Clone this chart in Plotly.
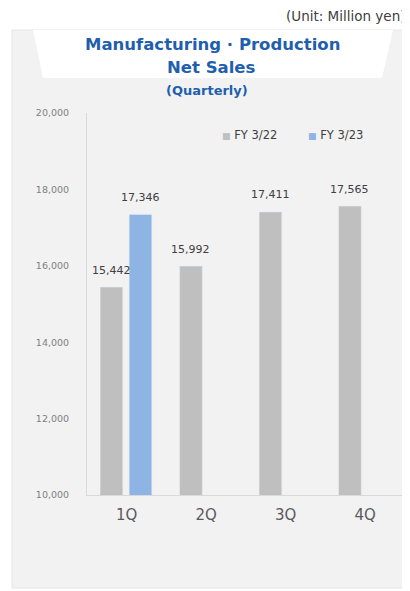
import plotly.graph_objects as go

categories = ["1Q", "2Q", "3Q", "4Q"]
fy_prev = [15442, 15992, 17411, 17565]
fy_curr = [17346, None, None, None]
series_names = ["FY 3/22", "FY 3/23"]
y_ticks = [10000, 12000, 14000, 16000, 18000, 20000]

# page body has an 8px margin; layout is expressed in reference (window) pixels
OFF = 8
W, H = 410 - OFF, 591 - OFF
L_ref, R_ref, T_ref, B_ref = 87, 405, 113, 495
L, R, T, B = L_ref - OFF, R_ref - OFF, T_ref - OFF, B_ref - OFF

def px(x):
    return (x - L_ref) / (R_ref - L_ref)

def py(y):
    return (B_ref - y) / (B_ref - T_ref)

gray = "#bfbfbf"
blue = "#8db4e2"
FONT = "DejaVu Sans, Verdana, sans-serif"
label_font = dict(family=FONT, size=11, color="#404040")

# bar geometry in category units
BAR_W = 0.285
OFF_PREV = -0.335
OFF_CURR = 0.03

fig = go.Figure()
fig.add_trace(go.Bar(
    x=categories, y=fy_prev, name=series_names[0], marker_color=gray,
    width=BAR_W, offset=OFF_PREV, showlegend=False,
))
fig.add_trace(go.Bar(
    x=categories, y=fy_curr, name=series_names[1], marker_color=blue,
    width=BAR_W, offset=OFF_CURR, showlegend=False,
))

shapes = [
    dict(type="rect", xref="paper", yref="paper", x0=px(12), x1=px(406), y0=py(588), y1=py(30),
         fillcolor="#f2f2f2", line=dict(color="#e6e6e6", width=1), layer="below"),
    dict(type="path", xref="paper", yref="paper",
         path=f"M {px(33)} {py(30)} L {px(393)} {py(30)} L {px(382)} {py(78)} L {px(43)} {py(78)} Z",
         fillcolor="#ffffff", line=dict(width=0), layer="below"),
]

title_color = "#1f5fad"
annotations = [
    dict(text="(Unit: Million yen)", xref="paper", yref="paper", x=px(284), y=py(16),
         xanchor="left", yanchor="middle", showarrow=False,
         font=dict(family=FONT, size=13.5, color="#404040")),
    dict(text="<b>Manufacturing · Production</b>", xref="paper", yref="paper", x=px(212), y=py(45),
         xanchor="center", yanchor="middle", showarrow=False,
         font=dict(family=FONT, size=16.5, color=title_color)),
    dict(text="<b>Net Sales</b>", xref="paper", yref="paper", x=px(211), y=py(67),
         xanchor="center", yanchor="middle", showarrow=False,
         font=dict(family=FONT, size=16.5, color=title_color)),
    dict(text="<b>(Quarterly)</b>", xref="paper", yref="paper", x=px(207), y=py(90),
         xanchor="center", yanchor="middle", showarrow=False,
         font=dict(family=FONT, size=13, color=title_color)),
]
# data labels placed through the axes
for values, off in [(fy_prev, OFF_PREV), (fy_curr, OFF_CURR)]:
    for i, v in enumerate(values):
        if v is None:
            continue
        annotations.append(dict(
            text=f"{v:,}", xref="x", yref="y", x=i + off + BAR_W / 2, y=v,
            xanchor="center", yanchor="middle", yshift=17, showarrow=False,
            font=label_font))
# legend
for name, col, xpos in zip(series_names, [gray, blue], [220, 306]):
    annotations.append(dict(
        text=f"<span style='color:{col};font-size:9px'>■</span> {name}",
        xref="paper", yref="paper", x=px(xpos), y=py(135), xanchor="left", yanchor="middle",
        showarrow=False, font=dict(family=FONT, size=11.5, color="#404040")))

fig.update_layout(
    width=W, height=H,
    margin=dict(l=L, r=W - R, t=T, b=H - B, pad=0),
    paper_bgcolor="#ffffff", plot_bgcolor="rgba(0,0,0,0)",
    barmode="overlay",
    shapes=shapes, annotations=annotations,
    showlegend=False,
    xaxis=dict(showgrid=False, showline=True, linecolor="#d9d9d9", linewidth=1,
               tickfont=dict(family=FONT, size=15, color="#595959"),
               ticks="", ticklabelstandoff=6, fixedrange=True, range=[-0.5, 3.5]),
    yaxis=dict(range=[10000, 20000], tickvals=y_ticks, tickformat=",", showgrid=False,
               showline=True, linecolor="#d9d9d9", linewidth=1, zeroline=False,
               tickfont=dict(family=FONT, size=9.5, color="#808080"),
               ticks="", ticklabelstandoff=15),
)

fig.write_html("out.html")
